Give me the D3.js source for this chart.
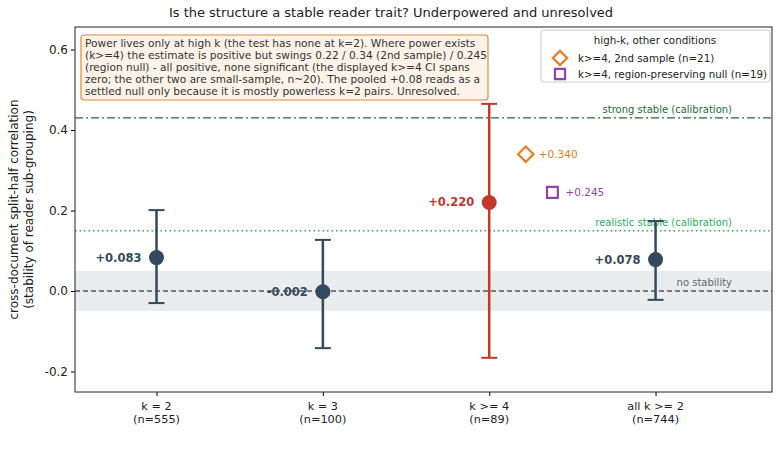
<!DOCTYPE html>
<html>
<head>
<meta charset="utf-8">
<script src="https://cdn.jsdelivr.net/npm/d3@7"></script>
<style>
  body { margin: 0; background: #fff; }
  svg text { font-family: "DejaVu Sans", sans-serif; }
</style>
</head>
<body>
<svg id="chart" width="781" height="467"></svg>
<script>
// categories and values
var categories = ["k = 2", "k = 3", "k >= 4", "all k >= 2"];
var sampleSizes = [555, 100, 89, 744];
var estimates = [0.083, -0.002, 0.220, 0.078];
var ciLow = [-0.030, -0.142, -0.166, -0.022];
var ciHigh = [0.201, 0.127, 0.465, 0.174];

// other high-k conditions
var extraLabels = ["k>=4, 2nd sample (n=21)", "k>=4, region-preserving null (n=19)"];
var extraPos = [2.22, 2.38];
var extraValues = [0.340, 0.245];

var yTicks = [-0.2, 0.0, 0.2, 0.4, 0.6];
var strongStable = 0.43, realisticStable = 0.15, noStabBand = 0.05;

var margin = {top: 27, right: 9, bottom: 75, left: 75};
var width = 781 - margin.left - margin.right;
var height = 467 - margin.top - margin.bottom;

var svg = d3.select("#chart");
var g = svg.append("g").attr("transform", "translate(" + margin.left + "," + margin.top + ")");

var x = d3.scaleLinear().domain([-0.49, 3.7]).range([0, width]);
var y = d3.scaleLinear().domain([-0.251, 0.656]).range([height, 0]);

// no-stability band
g.append("rect")
    .attr("x", 0).attr("width", width)
    .attr("y", y(noStabBand)).attr("height", y(-noStabBand) - y(noStabBand))
    .attr("fill", "#e9edee");

// reference lines
g.append("line")
    .attr("x1", 0).attr("x2", width).attr("y1", y(0)).attr("y2", y(0))
    .attr("stroke", "#555").attr("stroke-width", 1.3).attr("stroke-dasharray", "5,3");
g.append("line")
    .attr("x1", 0).attr("x2", width).attr("y1", y(strongStable)).attr("y2", y(strongStable))
    .attr("stroke", "#1e6b35").attr("stroke-width", 1.3).attr("stroke-dasharray", "8,3,2,3");
g.append("line")
    .attr("x1", 0).attr("x2", width).attr("y1", y(realisticStable)).attr("y2", y(realisticStable))
    .attr("stroke", "#27ae60").attr("stroke-width", 1.5).attr("stroke-dasharray", "1.5,3");

g.append("text").attr("x", width - 40).attr("y", y(strongStable) - 5)
    .attr("text-anchor", "end").attr("font-size", 10).attr("fill", "#1e6b35")
    .text("strong stable (calibration)");
g.append("text").attr("x", width - 40).attr("y", y(realisticStable) - 5)
    .attr("text-anchor", "end").attr("font-size", 10).attr("fill", "#27ae60")
    .text("realistic stable (calibration)");
g.append("text").attr("x", width - 40).attr("y", y(0) - 5)
    .attr("text-anchor", "end").attr("font-size", 10).attr("fill", "#666")
    .text("no stability");

// error bars and points
var colors = categories.map(function(d, i) { return i === 2 ? "#c0392b" : "#34495e"; });
var pts = g.selectAll(".pt").data(categories).enter().append("g").attr("class", "pt");

pts.append("line")
    .attr("x1", function(d, i) { return x(i); }).attr("x2", function(d, i) { return x(i); })
    .attr("y1", function(d, i) { return y(ciLow[i]); }).attr("y2", function(d, i) { return y(ciHigh[i]); })
    .attr("stroke", function(d, i) { return colors[i]; }).attr("stroke-width", 2.5);
[ciLow, ciHigh].forEach(function(arr) {
  pts.append("line")
      .attr("x1", function(d, i) { return x(i) - 8; }).attr("x2", function(d, i) { return x(i) + 8; })
      .attr("y1", function(d, i) { return y(arr[i]); }).attr("y2", function(d, i) { return y(arr[i]); })
      .attr("stroke", function(d, i) { return colors[i]; }).attr("stroke-width", 2);
});
pts.append("circle")
    .attr("cx", function(d, i) { return x(i); }).attr("cy", function(d, i) { return y(estimates[i]); })
    .attr("r", 7.5).attr("fill", function(d, i) { return colors[i]; });
pts.append("text")
    .attr("x", function(d, i) { return x(i) - 15; })
    .attr("y", function(d, i) { return y(estimates[i]) + 4; })
    .attr("text-anchor", "end").attr("font-size", 11.5).attr("font-weight", "bold")
    .attr("fill", function(d, i) { return colors[i]; })
    .text(function(d, i) { return (estimates[i] >= 0 ? "+" : "") + estimates[i].toFixed(3); });

// extra high-k markers
var extraColors = ["#e67e22", "#8e44ad"];
var diamond = d3.symbol().type(d3.symbolDiamond2).size(150);
var square = d3.symbol().type(d3.symbolSquare2).size(150);
extraValues.forEach(function(v, i) {
  g.append("path")
      .attr("d", i === 0 ? diamond() : square())
      .attr("transform", "translate(" + x(extraPos[i]) + "," + y(v) + ")")
      .attr("fill", "none").attr("stroke", extraColors[i]).attr("stroke-width", 2.2);
  g.append("text")
      .attr("x", x(extraPos[i]) + 13).attr("y", y(v) + 4)
      .attr("font-size", 10.5).attr("fill", extraColors[i])
      .text("+" + v.toFixed(3));
});

// axes
g.append("g")
    .attr("transform", "translate(0," + height + ")")
    .call(d3.axisBottom(x).tickValues(d3.range(categories.length)).tickSize(4).tickFormat(""))
    .call(function(a) { a.select(".domain").remove(); });
var xl = g.selectAll(".xl").data(categories).enter().append("text")
    .attr("x", function(d, i) { return x(i); })
    .attr("y", height + 18)
    .attr("text-anchor", "middle").attr("font-size", 11.3).attr("fill", "#222");
xl.append("tspan").attr("x", function(d, i) { return x(i); }).text(function(d) { return d; });
xl.append("tspan").attr("x", function(d, i) { return x(i); }).attr("dy", 12.5)
    .text(function(d, i) { return "(n=" + sampleSizes[i] + ")"; });

g.append("g")
    .call(d3.axisLeft(y).tickValues(yTicks).tickSize(4)
        .tickFormat(function(d) { return d3.format(".1f")(d).replace("\u2212", "-"); }))
    .call(function(a) {
      a.select(".domain").remove();
      a.selectAll("text").attr("font-size", 12).attr("fill", "#222");
    });

g.append("rect").attr("width", width).attr("height", height)
    .attr("fill", "none").attr("stroke", "#222").attr("stroke-width", 1);

// y label
var yl = svg.append("text")
    .attr("transform", "translate(18," + (margin.top + height / 2) + ") rotate(-90)")
    .attr("text-anchor", "middle").attr("font-size", 12).attr("fill", "#222");
yl.append("tspan").attr("x", 0).text("cross-document split-half correlation");
yl.append("tspan").attr("x", 0).attr("dy", 15).text("(stability of reader sub-grouping)");

// title
svg.append("text").attr("x", 391).attr("y", 17)
    .attr("text-anchor", "middle").attr("font-size", 13).attr("fill", "#222")
    .text("Is the structure a stable reader trait? Underpowered and unresolved");

// annotation box
var note = [
  "Power lives only at high k (the test has none at k=2). Where power exists",
  "(k>=4) the estimate is positive but swings 0.22 / 0.34 (2nd sample) / 0.245",
  "(region null) - all positive, none significant (the displayed k>=4 CI spans",
  "zero; the other two are small-sample, n~20). The pooled +0.08 reads as a",
  "settled null only because it is mostly powerless k=2 pairs. Unresolved."
];
g.append("rect").attr("x", 6).attr("y", 8).attr("width", 407).attr("height", 65)
    .attr("rx", 3).attr("fill", "#fdf3e8").attr("stroke", "#e08a3c").attr("stroke-width", 1.2);
g.append("text").attr("font-size", 10.6).attr("fill", "#333")
    .selectAll("tspan").data(note).enter().append("tspan")
    .attr("x", 10).attr("y", function(d, i) { return 20 + i * 11.9; })
    .text(function(d) { return d; });

// legend
var lg = g.append("g").attr("transform", "translate(" + (width - 231) + ",3)");
lg.append("rect").attr("width", 229).attr("height", 52).attr("rx", 3)
    .attr("fill", "#fff").attr("stroke", "#ccc");
lg.append("text").attr("x", 114).attr("y", 14).attr("text-anchor", "middle")
    .attr("font-size", 10.3).attr("fill", "#222").text("high-k, other conditions");
extraLabels.forEach(function(t, i) {
  lg.append("path")
      .attr("d", d3.symbol().type(i === 0 ? d3.symbolDiamond2 : d3.symbolSquare2).size(130)())
      .attr("transform", "translate(19," + (28 + i * 16) + ")")
      .attr("fill", "none").attr("stroke", extraColors[i]).attr("stroke-width", 2.2);
  lg.append("text").attr("x", 37).attr("y", 32 + i * 16)
      .attr("font-size", 10.3).attr("fill", "#222").text(t);
});
</script>
</body>
</html>
